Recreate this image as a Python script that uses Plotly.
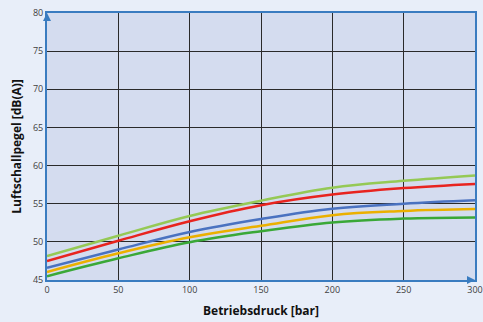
import plotly.graph_objects as go

pressure = [0, 50, 100, 150, 200, 250, 300]
series_lightgreen = [48.15, 50.8, 53.4, 55.4, 57.1, 58.0, 58.7]
series_red = [47.5, 50.15, 52.7, 54.8, 56.2, 57.05, 57.6]
series_blue = [46.6, 49.0, 51.3, 53.0, 54.35, 55.0, 55.45]
series_orange = [46.05, 48.5, 50.6, 52.1, 53.5, 54.05, 54.3]
series_green = [45.5, 47.85, 49.95, 51.4, 52.55, 53.05, 53.2]

x_ticks = [0, 50, 100, 150, 200, 250, 300]
y_ticks = [45, 50, 55, 60, 65, 70, 75, 80]
x_title = "Betriebsdruck [bar]"
y_title = "Luftschallpegel [dB(A)]"

fig = go.Figure()
for vals, col in [
    (series_green, "#3AA837"),
    (series_orange, "#EBB000"),
    (series_blue, "#4A72C0"),
    (series_red, "#E8241F"),
    (series_lightgreen, "#95C955"),
]:
    fig.add_trace(go.Scatter(x=pressure, y=vals, mode="lines",
                             line=dict(color=col, width=2.5, shape="spline", smoothing=1.1),
                             showlegend=False, hoverinfo="skip"))

axis_blue = "#3A7CC0"
fig.update_layout(
    width=483, height=322,
    margin=dict(l=47, r=8, t=13, b=42),
    paper_bgcolor="#E8EEF9",
    plot_bgcolor="#D4DCEF",
    font=dict(family="Open Sans", size=9, color="#404040"),
    annotations=[
        dict(text="<b>" + x_title + "</b>", xref="paper", yref="paper", x=0.5, y=-0.116,
             xanchor="center", yanchor="middle", showarrow=False,
             font=dict(size=12, color="#111")),
        dict(text="<b>" + y_title + "</b>", xref="paper", yref="paper", x=-0.072, y=0.5,
             xanchor="center", yanchor="middle", showarrow=False, textangle=-90,
             font=dict(size=12, color="#111")),
        dict(text="", xref="paper", yref="paper", x=0, y=1, ax=0, ay=8,
             showarrow=True, arrowhead=2, arrowsize=0.8, arrowwidth=2, arrowcolor=axis_blue),
        dict(text="", xref="paper", yref="paper", x=1, y=0, ax=-8, ay=0,
             showarrow=True, arrowhead=2, arrowsize=0.8, arrowwidth=2, arrowcolor=axis_blue),
    ],
)
fig.update_xaxes(
    range=[0, 300], tickvals=x_ticks, showgrid=True, gridcolor="#2a2a2a", gridwidth=1.2,
    showline=True, linecolor=axis_blue, linewidth=2, mirror=True, ticks="",
    zeroline=False, tickfont=dict(size=9), automargin=False,
)
fig.update_yaxes(
    range=[45, 80], tickvals=y_ticks, showgrid=True, gridcolor="#2a2a2a", gridwidth=1.2,
    showline=True, linecolor=axis_blue, linewidth=2, mirror=True, ticks="",
    zeroline=False, tickfont=dict(size=9), automargin=False,
)
fig.write_html("out.html", config={"displayModeBar": False},
               post_script="document.body.style.margin='0';document.body.style.background='#E8EEF9';")
